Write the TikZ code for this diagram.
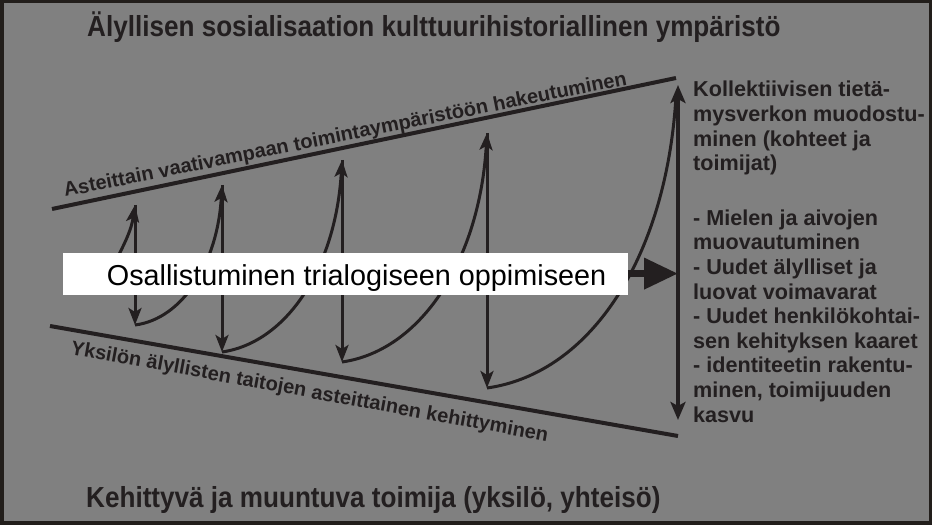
\documentclass[tikz,border=0pt]{standalone}
\usepackage{graphicx}
\usepackage{fontspec}
\setmainfont{Liberation Sans}
\usetikzlibrary{arrows.meta}
\definecolor{framecol}{RGB}{34,30,27}
\definecolor{bgcol}{RGB}{128,128,128}
\definecolor{ink}{RGB}{35,31,32}
\begin{document}
\begin{tikzpicture}[x=1pt,y=1pt,
    arr/.style={draw=ink, line width=3pt, -{Stealth[length=17pt,width=13pt,inset=4pt]}},
    edgeline/.style={draw=ink, line width=4pt},
    slant/.style={text=ink, font=\fontsize{20}{24}\selectfont\bfseries, inner sep=0pt, anchor=base west},
    heading/.style={text=ink, font=\fontsize{29}{33}\selectfont\bfseries, inner sep=0pt, anchor=base west}]
  \useasboundingbox (0,0) rectangle (932,525);
  \fill[framecol] (0,0) rectangle (932,525);
  \fill[bgcol] (4,4) rectangle (929,522);
  % headings
  \node[heading] (title) at (87,488) {\scalebox{0.9}[1]{Älyllisen sosialisaation kulttuurihistoriallinen ympäristö}};
  \node[heading] (actor) at (86,17) {\scalebox{0.9}[1]{Kehittyvä ja muuntuva toimija (yksilö, yhteisö)}};
  % upper and lower edges
  \coordinate (ul) at (52,316);
  \coordinate (ur) at (676,447);
  \coordinate (ll) at (50,199);
  \coordinate (lr) at (678,89);
  \draw[edgeline] (ul) -- (ur);
  \draw[edgeline] (ll) -- (lr);
  \node[slant, rotate=11.3] (upper) at (65,328) {Asteittain vaativampaan toimintaympäristöön hakeutuminen};
  \node[slant, rotate=-10.4] (lower) at (70,171) {Yksilön älyllisten taitojen asteittainen kehittyminen};
  % steps
  \coordinate (s0) at (104,238);
  \coordinate (t1) at (135,320);
  \coordinate (b1) at (135,200);
  \coordinate (t2) at (222,340);
  \coordinate (b2) at (222,173);
  \coordinate (t3) at (342,365);
  \coordinate (b3) at (342,163);
  \coordinate (t4) at (487,392);
  \coordinate (b4) at (487,137);
  \coordinate (ktop) at (678,440);
  \coordinate (kbot) at (678,105);
  \coordinate (kend) at (676,429);
  \draw[arr] (s0) .. controls (110,258) and (130,285) .. (t1);
  \draw[arr] (b1) .. controls (182.9,206.1) and (217.7,262.5) .. (t2);
  \draw[arr] (b2) .. controls (288,182.6) and (336,259.4) .. (t3);
  \draw[arr] (b3) .. controls (421.8,174.5) and (479.8,266.1) .. (t4);
  \draw[draw=ink, line width=3pt] (b4) .. controls (591,151.6) and (666.6,268.4) .. (kend);
  \foreach \i in {1,...,4}
    \draw[arr] (t\i) -- (b\i);
  \draw[draw=ink, line width=3.5pt, {Stealth[length=18pt,width=15pt,inset=4pt]}-{Stealth[length=18pt,width=15pt,inset=4pt]}] (kbot) -- (ktop);
  % box
  \node[fill=white, minimum width=565pt, minimum height=42pt, inner sep=0pt,
    text height=29pt, text depth=6pt, text=black, font=\fontsize{28.8}{33}\selectfont] (box) at (345.1,251.4)
    {\hspace*{23pt}Osallistuminen trialogiseen oppimiseen};
  \draw[draw=ink, line width=7pt, -{Triangle[length=34pt,width=30pt]}] (box.east) -- (box.east -| kbot);
  % outcomes
  \node[align=left, anchor=north west, inner sep=0pt, text=ink,
    font=\fontsize{21.6}{24.6}\selectfont\bfseries] (result) at (693,444)
    {Kollektiivisen tietä-\\ mysverkon muodostu-\\ minen (kohteet ja\\ toimijat)\\[30pt]
     - Mielen ja aivojen\\ muovautuminen\\ - Uudet älylliset ja\\ luovat voimavarat\\
     - Uudet henkilökohtai-\\ sen kehityksen kaaret\\ - identiteetin rakentu-\\
     minen, toimijuuden\\ kasvu};
\end{tikzpicture}
\end{document}
